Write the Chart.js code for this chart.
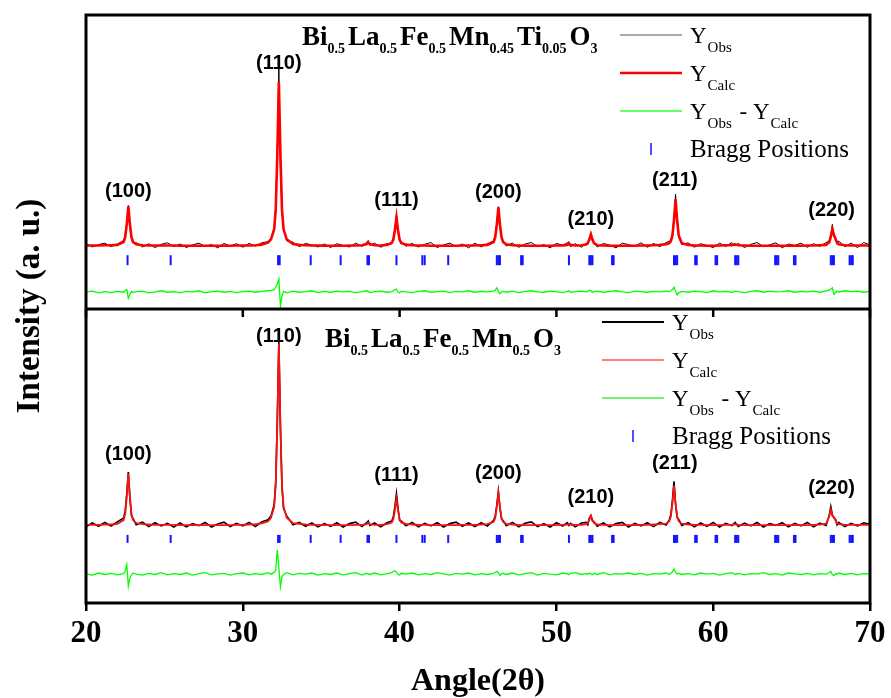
<!DOCTYPE html>
<html>
<head>
<meta charset="utf-8">
<script src="https://cdn.jsdelivr.net/npm/chart.js@4.4.1/dist/chart.umd.min.js"></script>
<style>
  html, body { margin: 0; padding: 0; background: #fff; }
</style>
</head>
<body>
<canvas id="xrd" width="891" height="698"></canvas>
<script>
// 2-theta grid shared by both refinements (finer steps through the reflections)
const angles = [
  20.0, 20.4, 20.8, 21.2, 21.6, 22.0, 22.4, 22.5, 22.6, 22.7,
  22.8, 22.9, 23.0, 23.2, 23.6, 24.0, 24.4, 24.8, 25.2, 25.6,
  26.0, 26.4, 26.8, 27.2, 27.6, 28.0, 28.4, 28.8, 29.2, 29.6,
  30.0, 30.4, 30.8, 31.2, 31.6, 31.8, 32.0, 32.1, 32.2, 32.3,
  32.4, 32.5, 32.6, 32.8, 33.2, 33.6, 34.0, 34.4, 34.8, 35.2,
  35.6, 36.0, 36.4, 36.8, 37.2, 37.6, 37.9, 38.0, 38.1, 38.4,
  38.8, 39.2, 39.5, 39.6, 39.7, 39.8, 39.9, 40.0, 40.1, 40.4,
  40.8, 41.2, 41.6, 42.0, 42.4, 42.8, 43.2, 43.6, 44.0, 44.4,
  44.8, 45.2, 45.6, 46.0, 46.1, 46.2, 46.3, 46.4, 46.5, 46.6,
  46.8, 47.2, 47.6, 48.0, 48.4, 48.8, 49.2, 49.6, 50.0, 50.4,
  50.7, 50.8, 50.9, 51.2, 51.6, 51.9, 52.0, 52.1, 52.2, 52.3,
  52.4, 52.6, 53.0, 53.4, 53.8, 54.2, 54.6, 55.0, 55.4, 55.8,
  56.2, 56.6, 57.0, 57.2, 57.3, 57.4, 57.5, 57.6, 57.7, 57.8,
  58.0, 58.4, 58.8, 59.2, 59.6, 60.0, 60.4, 60.8, 61.2, 61.4,
  61.6, 62.0, 62.4, 62.8, 63.2, 63.6, 64.0, 64.4, 64.8, 65.2,
  65.6, 66.0, 66.4, 66.8, 67.2, 67.4, 67.5, 67.6, 67.7, 67.8,
  67.9, 68.0, 68.4, 68.8, 69.2, 69.6, 70.0
];

// Bi0.5La0.5Fe0.5Mn0.45Ti0.05O3
const obsTop = [
  222, 211, 219, 224, 212, 221, 233, 250, 296, 352,
  282, 238, 224, 226, 211, 222, 209, 220, 225, 212,
  221, 209, 218, 224, 213, 219, 208, 223, 214, 222,
  210, 223, 214, 225, 229, 241, 276, 354, 550, 817,
  474, 325, 273, 232, 227, 212, 223, 218, 211, 221,
  209, 222, 216, 211, 224, 213, 227, 233, 216, 224,
  210, 223, 221, 242, 276, 322, 262, 232, 230, 213,
  223, 211, 220, 226, 209, 218, 224, 212, 221, 208,
  224, 211, 222, 232, 250, 296, 348, 281, 240, 233,
  214, 224, 210, 221, 226, 212, 219, 208, 223, 217,
  225, 229, 212, 222, 210, 224, 219, 241, 257, 231,
  228, 211, 223, 217, 208, 224, 219, 213, 225, 210,
  223, 212, 226, 230, 236, 258, 312, 390, 296, 244,
  219, 225, 210, 222, 216, 209, 224, 213, 226, 215,
  223, 209, 220, 226, 212, 218, 225, 208, 221, 216,
  224, 210, 222, 213, 226, 232, 252, 288, 248, 241,
  220, 231, 212, 224, 209, 226, 218
];
const calcTop = [
  216, 216, 216, 217, 217, 218, 228, 244, 289, 349,
  289, 244, 228, 220, 217, 216, 216, 216, 216, 216,
  215, 215, 215, 215, 215, 215, 215, 215, 215, 216,
  216, 216, 217, 219, 226, 237, 271, 338, 522, 773,
  522, 338, 271, 237, 221, 218, 217, 216, 216, 215,
  215, 215, 215, 216, 216, 217, 221, 227, 221, 217,
  216, 218, 225, 236, 268, 312, 268, 236, 225, 219,
  217, 216, 216, 215, 215, 215, 215, 215, 216, 216,
  216, 217, 218, 228, 244, 287, 346, 287, 244, 228,
  220, 217, 216, 215, 215, 215, 215, 215, 216, 216,
  218, 223, 218, 216, 217, 219, 224, 236, 254, 236,
  224, 217, 216, 215, 215, 215, 215, 215, 216, 216,
  217, 218, 220, 224, 231, 250, 302, 373, 302, 250,
  224, 218, 216, 216, 215, 215, 216, 217, 217, 220,
  217, 216, 215, 215, 215, 215, 215, 215, 215, 215,
  215, 216, 216, 217, 218, 227, 246, 271, 252, 238,
  226, 220, 217, 216, 216, 216, 216
];
const diffTop = [
  58, 61, 55, 59, 56, 60, 57, 63, 66, 36,
  50, 60, 56, 59, 61, 55, 58, 62, 57, 59,
  56, 60, 58, 62, 55, 59, 61, 57, 60, 56,
  59, 61, 57, 60, 62, 63, 66, 74, 86, 102,
  10, 45, 60, 55, 61, 57, 59, 62, 56, 60,
  57, 61, 58, 60, 56, 59, 62, 60, 56, 59,
  61, 57, 59, 62, 66, 68, 57, 55, 60, 58,
  56, 60, 62, 57, 59, 61, 56, 60, 58, 62,
  57, 60, 58, 61, 64, 72, 60, 52, 58, 60,
  57, 61, 56, 60, 62, 58, 57, 61, 59, 56,
  60, 62, 57, 59, 61, 58, 60, 64, 62, 56,
  59, 61, 57, 60, 62, 58, 56, 61, 59, 57,
  60, 58, 61, 59, 62, 66, 74, 60, 48, 55,
  60, 57, 61, 59, 56, 62, 58, 60, 57, 61,
  59, 56, 60, 62, 57, 61, 58, 59, 62, 57,
  60, 58, 61, 57, 62, 64, 68, 72, 50, 56,
  61, 58, 62, 59, 61, 57, 60
];

// Bi0.5La0.5Fe0.5Mn0.5O3
const obsBottom = [
  259, 272, 261, 274, 262, 276, 289, 312, 372, 445,
  355, 296, 288, 266, 275, 260, 273, 262, 271, 258,
  272, 259, 270, 263, 274, 258, 269, 275, 260, 271,
  262, 274, 260, 276, 283, 296, 334, 412, 625, 890,
  592, 392, 321, 296, 266, 274, 261, 272, 259, 270,
  261, 273, 258, 270, 275, 260, 273, 279, 264, 272,
  259, 273, 279, 293, 328, 372, 322, 281, 279, 263,
  274, 259, 271, 262, 273, 258, 270, 275, 261, 272,
  260, 273, 262, 281, 296, 334, 380, 322, 286, 281,
  263, 274, 259, 271, 276, 260, 270, 258, 273, 262,
  273, 264, 271, 259, 272, 274, 266, 289, 297, 279,
  276, 261, 272, 259, 270, 274, 258, 271, 262, 273,
  260, 274, 265, 283, 300, 349, 414, 336, 291, 284,
  264, 273, 259, 272, 261, 274, 258, 271, 263, 274,
  260, 272, 262, 274, 258, 270, 264, 273, 259, 271,
  262, 274, 259, 272, 264, 298, 328, 300, 289, 285,
  266, 274, 260, 271, 262, 273, 268
];
const calcBottom = [
  266, 266, 266, 267, 267, 269, 282, 303, 361, 440,
  361, 303, 282, 272, 268, 267, 266, 266, 266, 266,
  265, 265, 265, 265, 265, 265, 265, 265, 265, 266,
  266, 267, 268, 271, 277, 290, 327, 400, 603, 880,
  603, 400, 327, 290, 272, 269, 267, 266, 266, 265,
  265, 265, 265, 265, 266, 266, 268, 273, 268, 266,
  266, 268, 274, 285, 315, 355, 315, 285, 274, 269,
  267, 266, 266, 265, 265, 265, 265, 265, 266, 266,
  266, 267, 268, 276, 289, 326, 375, 326, 289, 276,
  269, 267, 266, 265, 265, 265, 265, 265, 265, 266,
  267, 269, 267, 266, 266, 268, 272, 283, 297, 283,
  272, 267, 266, 265, 265, 265, 265, 265, 266, 266,
  267, 268, 270, 278, 294, 339, 399, 339, 294, 278,
  270, 267, 266, 266, 265, 265, 265, 266, 266, 268,
  266, 265, 265, 265, 265, 265, 265, 265, 265, 265,
  265, 265, 266, 267, 270, 294, 317, 296, 292, 280,
  272, 268, 266, 266, 266, 266, 266
];
const diffBottom = [
  99, 95, 102, 97, 101, 96, 100, 108, 130, 58,
  86, 96, 102, 98, 95, 101, 97, 103, 96, 100,
  97, 102, 95, 100, 103, 96, 99, 101, 95, 100,
  102, 96, 100, 97, 103, 98, 104, 112, 181, 118,
  56, 90, 97, 103, 96, 101, 98, 102, 95, 100,
  97, 102, 96, 100, 103, 95, 101, 99, 97, 102,
  96, 100, 103, 107, 110, 106, 97, 95, 101, 98,
  102, 96, 100, 97, 103, 99, 95, 101, 98, 102,
  96, 100, 97, 101, 104, 108, 103, 94, 99, 101,
  97, 102, 96, 100, 103, 95, 101, 98, 96, 102,
  99, 96, 101, 103, 97, 100, 98, 102, 99, 96,
  101, 97, 103, 96, 100, 98, 102, 97, 101, 95,
  100, 98, 102, 97, 101, 106, 116, 104, 99, 101,
  97, 100, 96, 102, 98, 101, 95, 100, 103, 97,
  101, 96, 100, 98, 103, 97, 100, 95, 102, 99,
  97, 101, 96, 100, 98, 103, 108, 96, 93, 100,
  98, 102, 97, 101, 96, 100, 99
];

// Bragg reflection positions and the level they are marked at in each panel
const braggAngles = [
  22.65, 25.4, 32.25, 32.35, 34.33, 36.24, 37.95, 38.05, 39.8, 41.45, 41.6,
  43.1, 46.2, 46.3, 46.4, 47.75, 47.85, 50.8, 52.1, 52.2, 52.3, 53.55, 53.65,
  57.5, 57.6, 57.7, 58.85, 58.95, 60.15, 60.25, 61.4, 61.5, 61.6,
  63.95, 64.05, 64.15, 65.15, 65.25, 67.5, 67.6, 67.7, 68.7, 68.8, 68.9, 70.0
];
const braggLevelTop = 166;
const braggLevelBottom = 218;

const hklLabels = ['(100)', '(110)', '(111)', '(200)', '(210)', '(211)', '(220)'];
const hklAngles = [22.7, 32.3, 39.8, 46.3, 52.2, 57.55, 67.55];

const formulaTop = [['Bi', '0.5'], ['La', '0.5'], ['Fe', '0.5'], ['Mn', '0.45'], ['Ti', '0.05'], ['O', '3']];
const formulaBottom = [['Bi', '0.5'], ['La', '0.5'], ['Fe', '0.5'], ['Mn', '0.5'], ['O', '3']];

const SERIF = '"Liberation Serif", "Times New Roman", serif';
const SANS = '"Liberation Sans", Arial, sans-serif';

const toPoints = (vals) => angles.map((a, i) => ({ x: a, y: vals[i] }));
const braggPoints = (level) => braggAngles.map(a => ({ x: a, y: level }));

function traceSet(label, vals, axis, color, width) {
  return {
    label, data: toPoints(vals), yAxisID: axis,
    borderColor: color, borderWidth: width,
    pointRadius: 0, tension: 0, fill: false
  };
}

function braggSet(level, axis, size) {
  return {
    label: 'Bragg Positions', data: braggPoints(level), yAxisID: axis,
    showLine: false, pointStyle: 'line', pointRotation: 90,
    pointRadius: size, pointBorderColor: '#1414ff', pointBorderWidth: 2,
    pointBackgroundColor: '#1414ff'
  };
}

// chemical formula with subscripts, drawn left to right from x
function drawFormula(ctx, parts, x, y) {
  ctx.textAlign = 'left';
  ctx.textBaseline = 'alphabetic';
  for (const [sym, sub] of parts) {
    ctx.font = `bold 27px ${SERIF}`;
    ctx.fillText(sym, x, y);
    x += ctx.measureText(sym).width;
    ctx.font = `bold 14px ${SERIF}`;
    ctx.fillText(sub, x, y + 8);
    x += ctx.measureText(sub).width + 3;
  }
}

function drawYSub(ctx, x, y, sub) {
  ctx.font = `23px ${SERIF}`;
  ctx.fillText('Y', x, y);
  x += ctx.measureText('Y').width + 1;
  ctx.font = `15px ${SERIF}`;
  ctx.fillText(sub, x, y + 9);
  return x + ctx.measureText(sub).width;
}

function drawLegend(ctx, lx, tx, y0, styles) {
  ctx.fillStyle = '#000';
  ctx.textAlign = 'left';
  ctx.textBaseline = 'alphabetic';
  const rows = [y0, y0 + 38, y0 + 76, y0 + 114];
  styles.forEach((s, i) => {
    ctx.strokeStyle = s.color;
    ctx.lineWidth = s.width;
    ctx.beginPath();
    ctx.moveTo(lx, rows[i]);
    ctx.lineTo(lx + 62, rows[i]);
    ctx.stroke();
  });
  drawYSub(ctx, tx, rows[0] + 8, 'Obs');
  drawYSub(ctx, tx, rows[1] + 8, 'Calc');
  let x = drawYSub(ctx, tx, rows[2] + 8, 'Obs');
  ctx.font = `23px ${SERIF}`;
  ctx.fillText(' - ', x + 2, rows[2] + 8);
  x += ctx.measureText(' - ').width + 2;
  drawYSub(ctx, x, rows[2] + 8, 'Calc');
  // Bragg marker
  ctx.strokeStyle = '#1414ff';
  ctx.lineWidth = 1.5;
  ctx.beginPath();
  ctx.moveTo(lx + 31, rows[3] - 6);
  ctx.lineTo(lx + 31, rows[3] + 6);
  ctx.stroke();
  ctx.font = `25px ${SERIF}`;
  ctx.fillText('Bragg Positions', tx, rows[3] + 8);
}

// (hkl) labels sit just above the observed maximum of each reflection;
// the strongest line gets its label tucked in close to the peak tip
function drawHkl(ctx, xs, ys, obs, gap) {
  ctx.font = `bold 20px ${SANS}`;
  ctx.textAlign = 'center';
  ctx.textBaseline = 'middle';
  ctx.fillStyle = '#000';
  hklAngles.forEach((a, i) => {
    let peak = -Infinity;
    angles.forEach((t, j) => { if (Math.abs(t - a) <= 0.25) peak = Math.max(peak, obs[j]); });
    const py = ys.getPixelForValue(peak);
    const g = py - ys.top < 60 ? 5 : gap;
    ctx.fillText(hklLabels[i], xs.getPixelForValue(a), py - g);
  });
}

const decorations = {
  id: 'decorations',
  // split the plot area into two equal panels, one per composition
  afterLayout(chart) {
    const { chartArea, scales: { yTop, yBottom } } = chart;
    const mid = Math.round((chartArea.top + chartArea.bottom) / 2);
    yTop.top = chartArea.top;
    yTop.bottom = mid;
    yTop.height = mid - chartArea.top;
    yBottom.top = mid;
    yBottom.bottom = chartArea.bottom;
    yBottom.height = chartArea.bottom - mid;
    yTop.configure();
    yBottom.configure();
  },
  afterDraw(chart) {
    const { ctx, chartArea, scales } = chart;
    const { x, yTop, yBottom } = scales;
    const mid = yTop.bottom;
    ctx.save();

    // frame and panel divider
    ctx.strokeStyle = '#000';
    ctx.lineWidth = 3;
    ctx.strokeRect(chartArea.left, chartArea.top, chartArea.right - chartArea.left, chartArea.bottom - chartArea.top);
    ctx.beginPath();
    ctx.moveTo(chartArea.left, mid);
    ctx.lineTo(chartArea.right, mid);
    ctx.stroke();

    // ticks of the upper panel's angle axis
    ctx.lineWidth = 2.5;
    x.ticks.forEach(t => {
      const px = x.getPixelForValue(t.value);
      ctx.beginPath();
      ctx.moveTo(px, mid);
      ctx.lineTo(px, mid + 8);
      ctx.stroke();
    });

    ctx.fillStyle = '#000';
    drawFormula(ctx, formulaTop, 302, 45);
    drawFormula(ctx, formulaBottom, 325, 347);

    drawHkl(ctx, x, yTop, obsTop, 14);
    drawHkl(ctx, x, yBottom, obsBottom, 18);

    drawLegend(ctx, 620, 690, 35, [
      { color: '#555', width: 1.2 },
      { color: '#ff0000', width: 2.5 },
      { color: '#66ff66', width: 2 }
    ]);
    drawLegend(ctx, 602, 672, 322, [
      { color: '#000', width: 2 },
      { color: '#ff5555', width: 1.5 },
      { color: '#44ee44', width: 1.5 }
    ]);

    // vertical axis title
    ctx.translate(39, 306);
    ctx.rotate(-Math.PI / 2);
    ctx.font = `bold 33px ${SERIF}`;
    ctx.textAlign = 'center';
    ctx.textBaseline = 'alphabetic';
    ctx.fillText('Intensity (a. u.)', 0, 0);
    ctx.restore();
  }
};

new Chart(document.getElementById('xrd'), {
  type: 'line',
  data: {
    datasets: [
      traceSet('Y_Calc', calcTop, 'yTop', '#ff0000', 2.6),
      traceSet('Y_Obs', obsTop, 'yTop', '#000000', 1),
      traceSet('Y_Obs - Y_Calc', diffTop, 'yTop', '#00ff00', 1.3),
      braggSet(braggLevelTop, 'yTop', 5),
      traceSet('Y_Calc', calcBottom, 'yBottom', '#ff1010', 1.8),
      traceSet('Y_Obs', obsBottom, 'yBottom', '#000000', 1.6),
      traceSet('Y_Obs - Y_Calc', diffBottom, 'yBottom', '#00ff00', 1.3),
      braggSet(braggLevelBottom, 'yBottom', 4)
    ]
  },
  options: {
    responsive: false,
    animation: false,
    events: [],
    layout: { padding: { left: 86, right: 21, top: 15, bottom: 0 } },
    plugins: { legend: { display: false }, tooltip: { enabled: false } },
    scales: {
      x: {
        type: 'linear', position: 'bottom', min: 20, max: 70,
        afterFit: (s) => { s.height = 95; },
        ticks: { stepSize: 10, padding: 4, color: '#000', font: { family: SERIF, size: 31, weight: 'bold' } },
        grid: { drawOnChartArea: false, drawTicks: true, tickLength: 8, lineWidth: 2.5, color: '#000' },
        border: { display: false },
        title: {
          display: true, text: 'Angle(2θ)', color: '#000',
          font: { family: SERIF, size: 32, weight: 'bold', lineHeight: 1 },
          padding: { top: 0, bottom: 0 }
        }
      },
      yTop: { type: 'linear', position: 'left', min: 0, max: 1000, display: false },
      yBottom: { type: 'linear', position: 'left', min: 0, max: 1000, display: false }
    }
  },
  plugins: [decorations]
});
</script>
</body>
</html>
